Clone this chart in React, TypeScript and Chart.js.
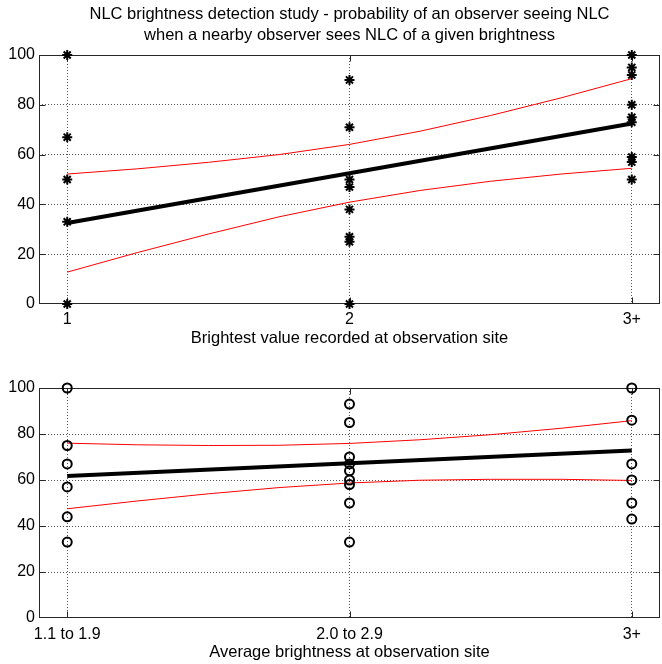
import React, { useEffect, useRef } from 'react';
import { Chart, registerables } from 'chart.js';
Chart.register(...registerables);

const FONT = '"Liberation Sans", Arial, Helvetica, sans-serif';

// x positions of the three categories
const xTickValues = [1, 2, 3];
const topXLabels = ['1', '2', '3+'];
const bottomXLabels = ['1.1 to 1.9', '2.0 to 2.9', '3+'];
const yTickStep = 20;

const topTitle = [
  'NLC brightness detection study - probability of an observer seeing NLC',
  'when a nearby observer sees NLC of a given brightness',
];
const topXTitle = 'Brightest value recorded at observation site';
const bottomXTitle = 'Average brightness at observation site';

// Top panel observations (per category)
const topObs1 = [100, 67, 50, 33, 0];
const topObs2 = [90, 71, 50, 47, 38, 27, 25, 0];
const topObs3 = [100, 95, 92, 80, 75, 73, 59, 57, 50];

// Fit line and confidence band
const fitX = [1, 2, 3];
const bandX = [1, 1.25, 1.5, 1.75, 2, 2.25, 2.5, 2.75, 3];
const topFit = [32.5, 52.5, 72.5];
const topUpper = [52.2, 54.3, 56.9, 60.0, 64.1, 69.4, 75.7, 82.8, 90.5];
const topLower = [12.8, 20.7, 28.1, 35.0, 40.9, 45.6, 49.3, 52.2, 54.5];

// Bottom panel observations
const botObs1 = [100, 75, 67, 57, 44, 33];
const botObs2 = [93, 85, 70, 67, 64, 60, 58, 50, 33];
const botObs3 = [100, 86, 67, 60, 50, 43];
const botFit = [61.7, 67.3, 72.8];
const botUpper = [76.0, 75.3, 75.0, 75.1, 75.9, 77.5, 79.7, 82.5, 85.8];
const botLower = [47.5, 50.9, 54.0, 56.7, 58.7, 59.9, 60.3, 60.3, 59.8];

const toPts = (xs: number[], ys: number[]) => ys.map((y, i) => ({ x: xs[i], y }));
const obsPts = (groups: number[][]) =>
  groups.flatMap((g, gi) => g.map((y) => ({ x: xTickValues[gi], y })));

const boxPlugin = {
  id: 'matlabBox',
  beforeDatasetsDraw(chart: any) {
    const { ctx, chartArea: a, scales } = chart;
    ctx.save();
    ctx.strokeStyle = '#262626';
    ctx.lineWidth = 1;
    const L = Math.round(a.left) + 0.5;
    const R = Math.round(a.right) - 0.5;
    const T = Math.round(a.top) + 0.5;
    const B = Math.round(a.bottom) - 0.5;
    ctx.strokeRect(L, T, R - L, B - T);
    const tl = 6;
    ctx.beginPath();
    for (const v of xTickValues) {
      const x = Math.round(scales.x.getPixelForValue(v)) + 0.5;
      ctx.moveTo(x, B); ctx.lineTo(x, B - tl);
      ctx.moveTo(x, T); ctx.lineTo(x, T + tl);
    }
    for (let v = yTickStep; v < 100; v += yTickStep) {
      const y = Math.round(scales.y.getPixelForValue(v)) + 0.5;
      ctx.moveTo(L, y); ctx.lineTo(L + tl, y);
      ctx.moveTo(R, y); ctx.lineTo(R - tl, y);
    }
    ctx.stroke();
    ctx.restore();
  },
};

function makeConfig(opts: {
  obs: number[][];
  fit: number[];
  upper: number[];
  lower: number[];
  xLabels: string[];
  xTitle: string;
  title?: string[];
  pointStyle: string;
  padTop: number;
  xAxisHeight: number;
  tickPad: number;
  titlePadBottom: number;
}): any {
  const gridColor = (c: any) =>
    c.tick && (c.tick.value === 0 || c.tick.value === 100) ? 'rgba(0,0,0,0)' : '#555';
  const isStar = opts.pointStyle === 'star';
  return {
    type: 'scatter',
    data: {
      datasets: [
        {
          data: obsPts(opts.obs),
          pointStyle: opts.pointStyle,
          pointRadius: isStar ? 5 : 4.5,
          borderColor: '#000',
          backgroundColor: 'rgba(0,0,0,0)',
          borderWidth: 2,
          showLine: false,
          clip: false,
        },
        {
          data: toPts(fitX, opts.fit),
          showLine: true,
          borderColor: '#000',
          borderWidth: 4,
          pointRadius: 0,
          clip: false,
        },
        {
          data: toPts(bandX, opts.upper),
          showLine: true,
          borderColor: '#ff0000',
          borderWidth: 1,
          pointRadius: 0,
          clip: false,
        },
        {
          data: toPts(bandX, opts.lower),
          showLine: true,
          borderColor: '#ff0000',
          borderWidth: 1,
          pointRadius: 0,
          clip: false,
        },
      ],
    },
    options: {
      responsive: false,
      animation: false,
      events: [],
      layout: {
        autoPadding: false,
        padding: { top: opts.title ? 0 : opts.padTop, right: 2, left: 0, bottom: 0 },
      },
      plugins: {
        legend: { display: false },
        tooltip: { enabled: false },
        title: opts.title
          ? {
              display: true,
              fullSize: false,
              text: opts.title,
              color: '#000',
              font: { family: FONT, size: 16.5, weight: 'normal', lineHeight: 21 / 16.5 },
              padding: { top: 4, bottom: 9 },
            }
          : { display: false },
      },
      scales: {
        x: {
          type: 'linear',
          min: 0.9,
          max: 3.1,
          afterBuildTicks: (s: any) => {
            s.ticks = xTickValues.map((v) => ({ value: v }));
          },
          afterFit: (s: any) => {
            s.height = opts.xAxisHeight;
            s.paddingLeft = 0;
            s.paddingRight = 0;
          },
          ticks: {
            color: '#000',
            font: { family: FONT, size: 16 },
            padding: opts.tickPad,
            maxRotation: 0,
            autoSkip: false,
            callback: (_v: any, i: number) => opts.xLabels[i],
          },
          grid: { color: gridColor, drawTicks: false, lineWidth: 1 },
          border: { display: false, dash: [1, 2] },
          title: {
            display: true,
            text: opts.xTitle,
            color: '#000',
            font: { family: FONT, size: 16.5 },
            padding: { top: 0, bottom: opts.titlePadBottom },
          },
        },
        y: {
          type: 'linear',
          min: 0,
          max: 100,
          afterFit: (s: any) => {
            s.width = 39;
          },
          ticks: {
            stepSize: yTickStep,
            color: '#000',
            font: { family: FONT, size: 16 },
            padding: 4,
          },
          grid: { color: gridColor, drawTicks: false, lineWidth: 1 },
          border: { display: false, dash: [1, 2] },
        },
      },
    },
    plugins: [boxPlugin],
  };
}

function ChartCanvas({ config, width, height, top }: any) {
  const ref = useRef<HTMLCanvasElement>(null);
  useEffect(() => {
    if (!ref.current) return;
    const chart = new Chart(ref.current, config());
    return () => chart.destroy();
  }, []);
  return (
    <canvas
      ref={ref}
      width={width}
      height={height}
      style={{ position: 'absolute', left: 0, top, width, height }}
    />
  );
}

export default function App() {
  return (
    <div style={{ position: 'absolute', left: 0, top: 0, width: 662, height: 664, background: '#fff' }}>
      <ChartCanvas
        width={662}
        height={350}
        top={0}
        config={() =>
          makeConfig({
            obs: [topObs1, topObs2, topObs3],
            fit: topFit,
            upper: topUpper,
            lower: topLower,
            xLabels: topXLabels,
            xTitle: topXTitle,
            title: topTitle,
            pointStyle: 'star',
            padTop: 0,
            xAxisHeight: 46,
            tickPad: 6,
            titlePadBottom: 2,
          })
        }
      />
      <ChartCanvas
        width={662}
        height={314}
        top={350}
        config={() =>
          makeConfig({
            obs: [botObs1, botObs2, botObs3],
            fit: botFit,
            upper: botUpper,
            lower: botLower,
            xLabels: bottomXLabels,
            xTitle: bottomXTitle,
            pointStyle: 'circle',
            padTop: 38,
            xAxisHeight: 46,
            tickPad: 7,
            titlePadBottom: 2,
          })
        }
      />
    </div>
  );
}
